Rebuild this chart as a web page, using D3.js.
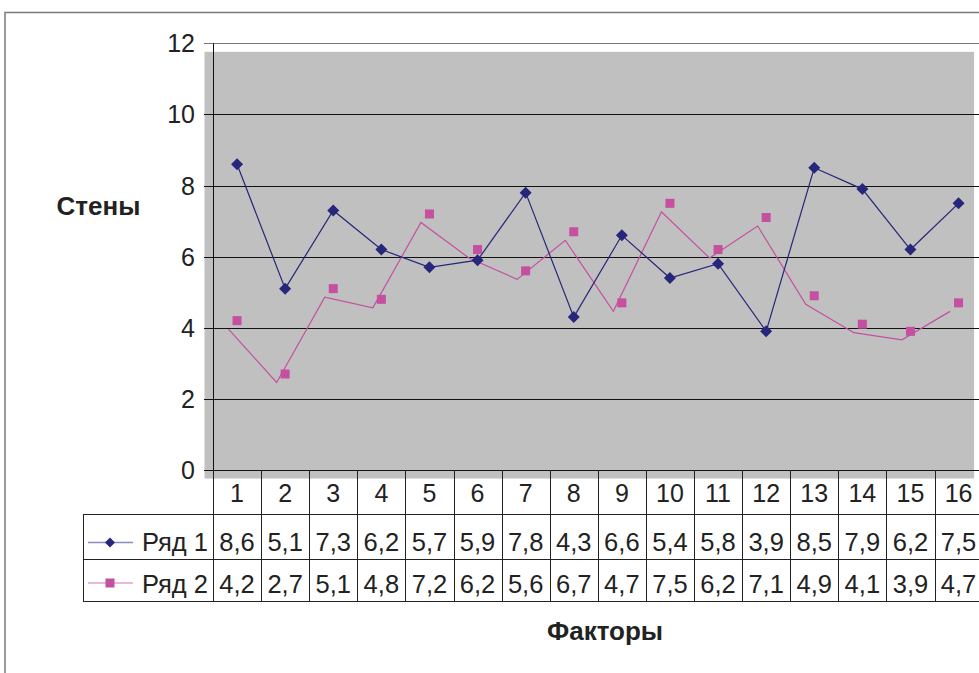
<!DOCTYPE html>
<html>
<head>
<meta charset="utf-8">
<script src="https://cdn.jsdelivr.net/npm/d3@7"></script>
<style>
  body { margin: 0; background: #fff; }
  svg { display: block; font-family: "Liberation Sans", Arial, sans-serif; }
</style>
</head>
<body>
<script>
// data
var categories = ["1","2","3","4","5","6","7","8","9","10","11","12","13","14","15","16"];
var series1 = [8.6, 5.1, 7.3, 6.2, 5.7, 5.9, 7.8, 4.3, 6.6, 5.4, 5.8, 3.9, 8.5, 7.9, 6.2, 7.5];
var series2 = [4.2, 2.7, 5.1, 4.8, 7.2, 6.2, 5.6, 6.7, 4.7, 7.5, 6.2, 7.1, 4.9, 4.1, 3.9, 4.7];
var seriesNames = ["Ряд 1", "Ряд 2"];
var yTicks = [0, 2, 4, 6, 8, 10, 12];

function fmt(v) {
  return String(v).replace(".", ",");
}

function drawChart() {
  var w = 979, h = 673;
  var left = 213, right = 213 + 16 * 48.1;
  var top = 43.3, bottom = 470;
  // the gray area and the Ряд 2 line are drawn shifted (like a shadow)
  var shadowX = -8.5, shadowY = 8.5;
  var rowH = [44, 45, 42];

  var navy = "#26267a";
  var pink = "#c4509f";

  var svg = d3.select("body").append("svg")
    .attr("width", w)
    .attr("height", h);

  // outer chart border
  svg.append("path")
    .attr("d", "M5," + h + "V12.5H" + w)
    .attr("fill", "none")
    .attr("stroke", "#7a7a7a")
    .attr("stroke-width", 1.5);

  var x = d3.scaleBand()
    .domain(categories)
    .range([left, right]);

  var y = d3.scaleLinear()
    .domain([0, 12])
    .range([bottom, top]);

  // plot background
  svg.append("rect")
    .attr("x", left + shadowX)
    .attr("y", top + shadowY)
    .attr("width", right - left)
    .attr("height", bottom - top)
    .attr("fill", "#c0c0c0");

  // gridlines + ticks
  svg.selectAll("line.grid")
    .data(yTicks)
    .enter()
    .append("line")
    .attr("class", "grid")
    .attr("x1", left - 9)
    .attr("x2", right)
    .attr("y1", function(d) { return Math.round(y(d)) + 0.5; })
    .attr("y2", function(d) { return Math.round(y(d)) + 0.5; })
    .attr("stroke", function(d) { return d == 12 ? "#777" : "#111"; })
    .attr("stroke-width", 1);

  // y axis line
  svg.append("line")
    .attr("x1", left + 0.5).attr("x2", left + 0.5)
    .attr("y1", top).attr("y2", bottom)
    .attr("stroke", "#111");

  // y tick labels
  svg.selectAll("text.ytick")
    .data(yTicks)
    .enter()
    .append("text")
    .attr("class", "ytick")
    .text(function(d) { return d; })
    .attr("x", 195)
    .attr("y", function(d) { return y(d) + 9; })
    .attr("text-anchor", "end")
    .attr("font-size", "25px")
    .attr("fill", "#222");

  // Ряд 2 line (shifted)
  var line = d3.line()
    .x(function(d, i) { return x(categories[i]) + x.bandwidth() / 2; })
    .y(function(d) { return y(d); });

  svg.append("path")
    .datum(series2)
    .attr("d", line)
    .attr("transform", "translate(" + shadowX + "," + shadowY + ")")
    .attr("fill", "none")
    .attr("stroke", pink)
    .attr("stroke-width", 1.2);

  // Ряд 1 line
  svg.append("path")
    .datum(series1)
    .attr("d", line)
    .attr("fill", "none")
    .attr("stroke", navy)
    .attr("stroke-width", 1.2);

  // markers
  var sq = 9;
  svg.selectAll("rect.s2")
    .data(series2)
    .enter()
    .append("rect")
    .attr("class", "s2")
    .attr("x", function(d, i) { return x(categories[i]) + x.bandwidth() / 2 - sq / 2; })
    .attr("y", function(d) { return y(d) - sq / 2; })
    .attr("width", sq)
    .attr("height", sq)
    .attr("fill", pink);

  var diamond = "M0,-6L6,0L0,6L-6,0Z";
  svg.selectAll("path.s1")
    .data(series1)
    .enter()
    .append("path")
    .attr("class", "s1")
    .attr("d", diamond)
    .attr("transform", function(d, i) {
      return "translate(" + (x(categories[i]) + x.bandwidth() / 2) + "," + y(d) + ")";
    })
    .attr("fill", navy);

  // data table
  var rowY = [bottom, bottom + rowH[0], bottom + rowH[0] + rowH[1], bottom + rowH[0] + rowH[1] + rowH[2]];
  var tableLeft = 83;

  // horizontal lines
  svg.selectAll("line.hrow")
    .data([1, 2, 3])
    .enter()
    .append("line")
    .attr("class", "hrow")
    .attr("x1", tableLeft)
    .attr("x2", right)
    .attr("y1", function(d) { return Math.round(rowY[d]) + 0.5; })
    .attr("y2", function(d) { return Math.round(rowY[d]) + 0.5; })
    .attr("stroke", "#222");

  // vertical lines
  var bounds = categories.map(function(c) { return x(c); }).concat([right]);
  svg.selectAll("line.vcol")
    .data(bounds)
    .enter()
    .append("line")
    .attr("class", "vcol")
    .attr("x1", function(d) { return Math.round(d) + 0.5; })
    .attr("x2", function(d) { return Math.round(d) + 0.5; })
    .attr("y1", bottom)
    .attr("y2", rowY[3])
    .attr("stroke", "#222");

  svg.append("line")
    .attr("x1", tableLeft + 0.5).attr("x2", tableLeft + 0.5)
    .attr("y1", rowY[1]).attr("y2", rowY[3])
    .attr("stroke", "#222");

  // category labels
  svg.selectAll("text.cat")
    .data(categories)
    .enter()
    .append("text")
    .attr("class", "cat")
    .text(function(d) { return d; })
    .attr("x", function(d) { return x(d) + x.bandwidth() / 2; })
    .attr("y", rowY[0] + 32)
    .attr("text-anchor", "middle")
    .attr("font-size", "25px")
    .attr("fill", "#222");

  // value cells
  var allSeries = [series1, series2];
  allSeries.forEach(function(s, r) {
    svg.selectAll("text.val" + r)
      .data(s)
      .enter()
      .append("text")
      .attr("class", "val" + r)
      .text(function(d) { return fmt(d); })
      .attr("x", function(d, i) { return x(categories[i]) + x.bandwidth() / 2; })
      .attr("y", rowY[r + 1] + (r == 0 ? 36.5 : 33.5))
      .attr("text-anchor", "middle")
      .attr("font-size", "25.5px")
      .attr("fill", "#222");
  });

  // legend keys in table
  var keyY = [rowY[1] + 28.5, rowY[2] + 24];
  var keyColors = ["#8c8cbf", "#e0a2d2"];
  seriesNames.forEach(function(name, r) {
    svg.append("line")
      .attr("x1", 88).attr("x2", 133)
      .attr("y1", keyY[r]).attr("y2", keyY[r])
      .attr("stroke", keyColors[r])
      .attr("stroke-width", 1.5);
    if (r == 0) {
      svg.append("path")
        .attr("d", "M0,-5L5,0L0,5L-5,0Z")
        .attr("transform", "translate(110," + keyY[r] + ")")
        .attr("fill", navy);
    } else {
      svg.append("rect")
        .attr("x", 110 - sq / 2).attr("y", keyY[r] - sq / 2)
        .attr("width", sq).attr("height", sq)
        .attr("fill", pink);
    }
    svg.append("text")
      .text(name)
      .attr("x", 208)
      .attr("y", rowY[r + 1] + (r == 0 ? 36.5 : 33.5))
      .attr("text-anchor", "end")
      .attr("font-size", "25.5px")
      .attr("fill", "#222");
  });

  // axis titles
  svg.append("text")
    .text("Стены")
    .attr("x", 98.5)
    .attr("y", 215)
    .attr("text-anchor", "middle")
    .attr("font-size", "26px")
    .attr("font-weight", "bold")
    .attr("fill", "#222");

  svg.append("text")
    .text("Факторы")
    .attr("x", 605)
    .attr("y", 640)
    .attr("text-anchor", "middle")
    .attr("font-size", "26px")
    .attr("font-weight", "bold")
    .attr("fill", "#222");
}

window.onload = function() {
  drawChart();
};
</script>
</body>
</html>
